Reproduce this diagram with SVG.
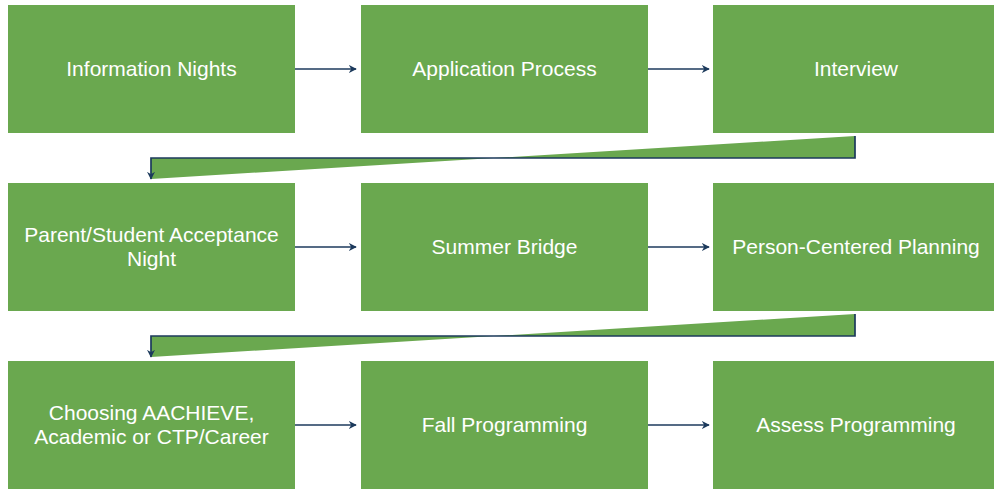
<svg xmlns="http://www.w3.org/2000/svg" width="994" height="489" viewBox="0 0 994 489">
<defs>
<style>
.box{fill:#6aa84f;}
.lbl{font-family:"Liberation Sans",Arial,sans-serif;font-size:21px;fill:#ffffff;text-anchor:middle;}
.ln{fill:none;stroke:#1c3a5c;stroke-width:1.7;}
.wedge{fill:#6aa84f;stroke:none;}
</style>
<marker id="ah" viewBox="0 0 10 10" refX="9" refY="5" markerWidth="8" markerHeight="8" markerUnits="userSpaceOnUse" orient="auto">
<path d="M0,0 L10,5 L0,10 L3,5 Z" fill="#1c3a5c"/>
</marker>
</defs>
<rect width="994" height="489" fill="#ffffff"/>
<g id="n1"><rect class="box" x="8" y="5" width="287" height="128"/><text class="lbl" x="151.5" y="76">Information Nights</text></g>
<g id="n2"><rect class="box" x="361" y="5" width="287" height="128"/><text class="lbl" x="504.5" y="76">Application Process</text></g>
<g id="n3"><rect class="box" x="713" y="5" width="287" height="128"/><text class="lbl" x="856" y="76">Interview</text></g>
<g id="n4"><rect class="box" x="8" y="183" width="287" height="128"/><text class="lbl" x="151.5" y="242">Parent/Student Acceptance</text><text class="lbl" x="151.5" y="266">Night</text></g>
<g id="n5"><rect class="box" x="361" y="183" width="287" height="128"/><text class="lbl" x="504.5" y="254">Summer Bridge</text></g>
<g id="n6"><rect class="box" x="713" y="183" width="287" height="128"/><text class="lbl" x="856" y="254">Person-Centered Planning</text></g>
<g id="n7"><rect class="box" x="8" y="361" width="287" height="128"/><text class="lbl" x="151.5" y="420">Choosing AACHIEVE,</text><text class="lbl" x="151.5" y="444">Academic or CTP/Career</text></g>
<g id="n8"><rect class="box" x="361" y="361" width="287" height="128"/><text class="lbl" x="504.5" y="432">Fall Programming</text></g>
<g id="n9"><rect class="box" x="713" y="361" width="287" height="128"/><text class="lbl" x="856" y="432">Assess Programming</text></g>
<g id="connectors">
<path class="wedge" d="M855,136 L855,158 L151,158 L151,179 Z"/>
<path class="wedge" d="M855,314 L855,336 L151,336 L151,357 Z"/>
<path class="ln" d="M295,69 L356,69" marker-end="url(#ah)"/>
<path class="ln" d="M648,69 L709,69" marker-end="url(#ah)"/>
<path class="ln" d="M855,136 L855,158 L151,158 L151,179" marker-end="url(#ah)"/>
<path class="ln" d="M295,247 L356,247" marker-end="url(#ah)"/>
<path class="ln" d="M648,247 L709,247" marker-end="url(#ah)"/>
<path class="ln" d="M855,314 L855,336 L151,336 L151,357" marker-end="url(#ah)"/>
<path class="ln" d="M295,425 L356,425" marker-end="url(#ah)"/>
<path class="ln" d="M648,425 L709,425" marker-end="url(#ah)"/>
</g>
</svg>
